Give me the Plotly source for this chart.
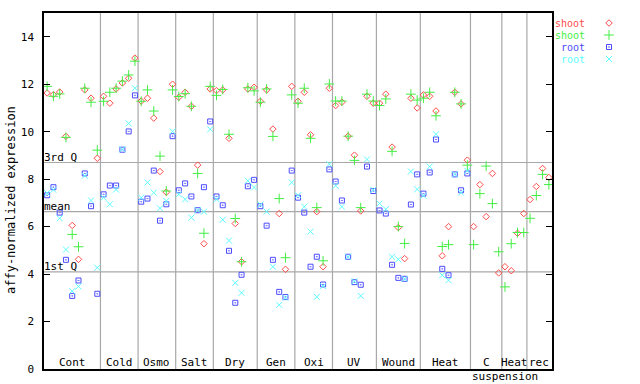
import plotly.graph_objects as go

# ---------------- data ----------------
groups = ["Cont", "Cold", "Osmo", "Salt", "Dry", "Gen", "Oxi", "UV", "Wound",
          "Heat", "C", "Heat", "rec"]
group_sizes = [9, 6, 6, 6, 7, 6, 6, 7, 7, 8, 5, 4, 4]

shoot_1 = [11.63, 11.56, 11.67, 9.80, 6.05, 4.62, 11.76, 11.41, 8.88,
           11.49, 11.20, 11.80, 12.05, 12.25, 13.10,
           11.29, 11.41, 10.57, 8.32, 7.45, 12.00,
           11.45, 11.66, 11.07, 8.59, 5.28, 11.80,
           11.73, 11.76, 9.72, 6.13, 4.52, 11.80, 11.87,
           11.28, 11.76, 10.11, 6.55, 4.20, 11.91,
           11.28, 11.66, 9.87, 6.63, 4.31, 11.83,
           11.10, 11.24, 9.81, 9.01, 6.66, 11.49, 11.20,
           11.20, 11.58, 9.35, 5.96, 4.65, 11.41, 11.00,
           11.55, 11.49, 10.87, 4.77, 6.00, 11.66, 11.17, 8.80,
           6.00, 7.77, 6.42, 8.24, 4.05,
           4.31, 4.14, 5.72, 6.55,
           7.14, 7.69, 8.45, 8.07]

shoot_2 = [11.91, 11.49, 11.59, 9.76, 5.67, 5.15, 11.83, 11.24, 9.22,
           11.28, 11.66, 11.83, 12.13, 12.39, 12.97,
           11.28, 11.76, 10.87, 8.97, 7.50, 11.76,
           11.48, 11.60, 11.07, 8.24, 5.72, 11.91,
           11.53, 11.78, 9.89, 6.34, 4.52, 11.85, 11.72,
           11.24, 11.80, 9.80, 7.18, 4.69, 11.55,
           11.20, 11.83, 9.72, 6.80, 4.56, 12.01,
           11.29, 11.29, 9.81, 8.79, 6.80, 11.58, 11.29,
           11.10, 11.38, 9.17, 6.00, 5.29, 11.58, 11.33,
           11.41, 11.66, 10.67, 5.16, 5.24, 11.66, 11.17, 8.59,
           5.24, 7.39, 8.55, 6.97, 4.94,
           3.46, 5.28, 5.75, 5.75,
           6.35, 7.31, 8.20, 7.77]

root_1 = [7.32, 7.66, 6.59, 4.60, 3.08, 3.73, 8.24, 6.86, 3.17,
          7.36, 7.73, 7.73, 9.24, 10.01, 11.53,
          7.05, 7.18, 8.36, 6.25, 6.94, 9.81,
          7.53, 7.82, 7.27, 6.69, 7.66, 10.43,
          7.27, 6.90, 4.98, 2.79, 3.97, 7.70, 7.97,
          6.86, 6.04, 4.60, 3.25, 3.03, 8.36,
          7.22, 6.59, 4.31, 4.73, 3.56, 8.41,
          7.90, 7.10, 4.73, 3.66, 3.55, 8.53, 7.50,
          6.68, 6.55, 4.39, 3.84, 3.80, 6.93, 8.20,
          7.39, 8.28, 9.67, 4.22, 3.95, 8.20, 7.53, 8.24,
          None, None, None, None, None,
          None, None, None, None,
          None, None, None, None]

root_2 = [7.41, 7.55, 6.35, 5.03, 3.28, 3.48, 8.14, 7.10, 4.27,
          7.22, 6.94, 7.56, 9.26, 10.35, 11.83,
          7.22, 7.86, 7.43, 6.77, 7.08, 10.01,
          7.36, 7.15, 6.38, 6.69, 6.63, 10.10,
          7.15, 6.29, 5.41, 3.63, 3.21, 7.93, 7.65,
          6.93, 6.63, 4.31, 2.70, 3.00, 7.86,
          7.32, 6.84, 5.79, 3.04, 3.49, 8.63,
          7.72, 6.84, 4.73, 3.70, 3.08, 8.83, 7.55,
          6.97, 6.73, 4.73, 4.62, 3.80, 8.32, 7.57,
          7.30, 8.53, 9.89, 3.95, 3.74, 8.20, 7.43, 8.35,
          None, None, None, None, None,
          None, None, None, None,
          None, None, None, None]

quartiles = {"3rd Q": 8.70, "mean": 6.63, "1st Q": 4.09}
y_ticks = [0, 2, 4, 6, 8, 10, 12, 14]

series = [
    ("shoot", shoot_1, "#ff4c4c", "diamond-open", 5),
    ("shoot", shoot_2, "#44ee44", "cross-thin-open", 7),
    ("root", root_1, "#4c4cff", "square-open-dot", 5),
    ("root", root_2, "#5cffff", "x-thin-open", 6),
]

# ---------------- figure ----------------
W, H = 640, 384
L, T, B = 44, 13, 15
PLOT_W = 508
paper_w = W - L
n = sum(group_sizes)
xs = list(range(n))
FONT = "DejaVu Sans Mono"
FS = 11

fig = go.Figure()
for name, vals, col, sym, sz in series:
    fig.add_trace(go.Scatter(
        x=xs, y=vals, mode="markers", name=name, showlegend=False,
        marker=dict(symbol=sym, size=sz, color=col, line=dict(color=col, width=1)),
        cliponaxis=False))

# legend drawn manually (text left, symbol right)
leg_y = [23, 35, 47, 59]
for k, (name, vals, col, sym, sz) in enumerate(series):
    fig.add_trace(go.Scatter(
        x=[609], y=[leg_y[k]], mode="markers", showlegend=False, xaxis="x2", yaxis="y2",
        marker=dict(symbol=sym, size=sz, color=col, line=dict(color=col, width=1))))
    fig.add_annotation(x=586, y=leg_y[k], xref="x2", yref="y2", text=name,
                       showarrow=False, xanchor="right", yanchor="middle",
                       borderpad=0, font=dict(family=FONT, size=10, color=col))

shapes = []
# group separators
cum = 0
for s in group_sizes[:-1]:
    cum += s
    shapes.append(dict(type="line", xref="x", yref="paper", x0=cum - 0.5, x1=cum - 0.5,
                       y0=0, y1=1, line=dict(color="#a8a8a8", width=1.2), layer="below"))
# quartile lines
for lab, v in quartiles.items():
    shapes.append(dict(type="line", xref="paper", yref="y", x0=0, x1=PLOT_W / paper_w,
                       y0=v, y1=v, line=dict(color="#a8a8a8", width=1.2), layer="below"))
    fig.add_annotation(x=0, y=v, xref="paper", yref="y", text=lab, showarrow=False,
                       xanchor="left", yanchor="bottom", xshift=-2, yshift=-3,
                       font=dict(family=FONT, size=FS, color="black"))

# group labels
start = 0
for g, s in zip(groups, group_sizes):
    c = start + (s - 1) / 2
    fig.add_annotation(x=c, y=0, xref="x", yref="y", text=g, showarrow=False,
                       xanchor="center", yanchor="bottom", yshift=-2,
                       font=dict(family=FONT, size=FS, color="black"))
    if g == "C":
        fig.add_annotation(x=start - 0.5, y=0, xref="x", yref="y", text="suspension",
                           showarrow=False, xanchor="left", yanchor="top", yshift=1,
                           font=dict(family=FONT, size=FS, color="black"))
    start += s

fig.add_annotation(x=0, y=0.5, xref="paper", yref="paper", text="affy-normalized expression",
                   showarrow=False, textangle=-90, xanchor="center", yanchor="middle",
                   xshift=-33, yshift=-9, font=dict(family=FONT, size=12, color="black"))

fig.update_layout(
    width=W, height=H, margin=dict(l=L, r=0, t=T, b=B, pad=0),
    paper_bgcolor="white", plot_bgcolor="white", showlegend=False,
    shapes=shapes,
    xaxis=dict(domain=[0, PLOT_W / paper_w], range=[-0.5, n - 0.5], showticklabels=False,
               ticks="", showgrid=False, zeroline=False, showline=True, linecolor="black",
               linewidth=1.5, mirror=True, fixedrange=True),
    yaxis=dict(range=[0, 15], tickvals=y_ticks, ticks="inside", ticklen=6, tickcolor="black",
               tickwidth=1, showgrid=False, zeroline=False, showline=True, linecolor="black",
               linewidth=1.5, mirror="ticks", ticklabelstandoff=6,
               tickfont=dict(family=FONT, size=FS, color="black")),
    xaxis2=dict(domain=[PLOT_W / paper_w, 1], range=[552, 640], visible=False, anchor="y2"),
    yaxis2=dict(domain=[0, 1], range=[369, 13], visible=False, anchor="x2"),
)

fig.write_html("out.html", config={"displayModeBar": False},
               post_script="document.body.style.margin='0';document.body.style.padding='0';")
